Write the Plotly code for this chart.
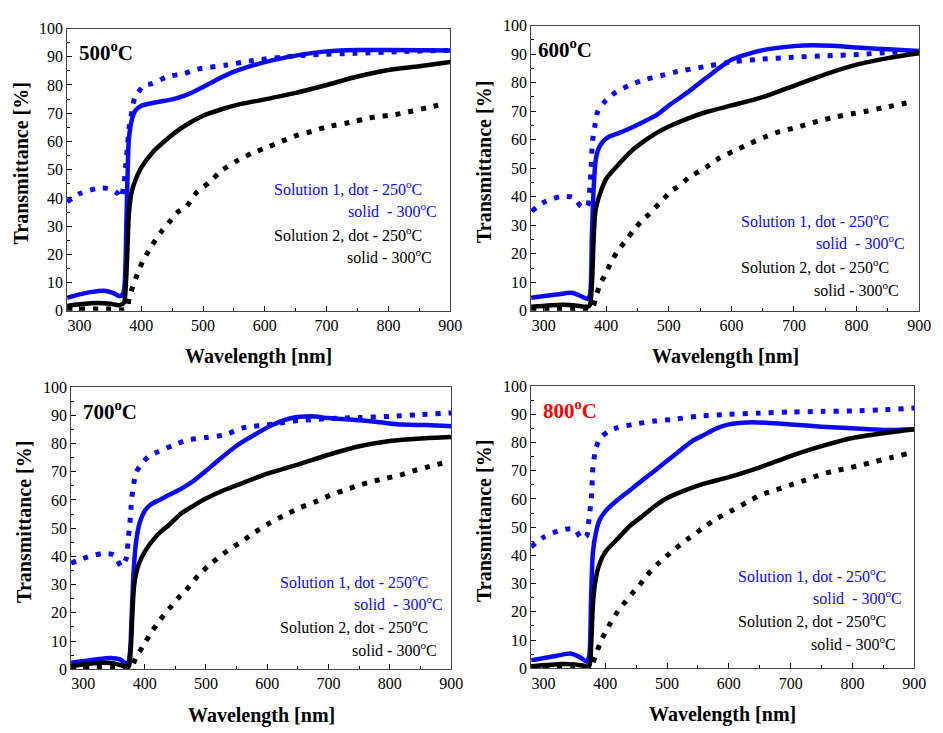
import plotly.graph_objects as go

# ---------------- data ----------------
panels = ["500", "600", "700", "800"]

# 500 C
t500_s1_250_x = [280, 300, 330, 350, 362, 367, 372, 375, 378, 380, 385, 390, 395, 405, 416, 443, 469, 491, 536, 582, 630, 678, 747, 816, 891, 900]
t500_s1_250_y = [38.6, 41.5, 43.4, 43.2, 41.5, 40.0, 45.0, 52.0, 59.0, 64.5, 70.8, 76.0, 77.4, 80.0, 80.4, 83.0, 84.0, 85.6, 87.0, 88.7, 89.9, 90.7, 91.2, 91.8, 92.2, 92.2]
t500_s1_300_x = [280, 300, 320, 340, 355, 365, 370, 373, 376, 378, 380, 385, 390, 400, 420, 450, 470, 485, 500, 520, 550, 600, 650, 700, 750, 800, 900]
t500_s1_300_y = [4.6, 5.8, 6.7, 7.1, 6.3, 5.2, 5.8, 9.0, 32.0, 49.5, 61.0, 68.0, 70.8, 72.6, 73.7, 74.9, 76.2, 77.6, 79.3, 81.6, 84.7, 88.1, 90.4, 91.9, 92.4, 92.4, 92.2]
t500_s2_250_x = [280, 300, 350, 376, 381, 395, 405, 418, 432, 444, 460, 473, 488, 510, 531, 554, 580, 607, 628, 653, 677, 699, 744, 768, 816, 864, 888]
t500_s2_250_y = [0.6, 0.6, 0.6, 0.6, 5.2, 13.8, 18.7, 23.4, 27.9, 31.1, 35.1, 36.9, 41.5, 45.5, 49.8, 53.0, 55.9, 58.2, 60.1, 62.2, 63.6, 65.1, 67.0, 68.3, 69.7, 72.0, 73.2]
t500_s2_300_x = [280, 300, 330, 350, 365, 372, 375, 378, 380, 385, 390, 400, 420, 440, 460, 480, 500, 530, 560, 600, 650, 700, 750, 800, 850, 900]
t500_s2_300_y = [1.7, 2.3, 2.8, 2.5, 2.0, 2.9, 9.2, 24.0, 34.6, 42.6, 46.0, 50.7, 56.5, 60.5, 64.0, 66.8, 69.1, 71.4, 73.2, 74.9, 77.2, 80.0, 83.0, 85.3, 86.6, 88.1]

# 600 C
t600_s1_250_x = [281, 299, 326, 347, 360, 370, 373, 375.6, 378, 382, 386, 396.6, 415, 441, 462, 488.6, 509.6, 559.5, 604, 646, 698.7, 751, 804, 856, 900]
t600_s1_250_y = [34.9, 37.9, 40.0, 39.8, 36.6, 36.6, 41.0, 49.0, 59.4, 65.0, 69.7, 73.1, 76.6, 79.4, 81.1, 82.5, 83.7, 85.7, 87.4, 88.2, 88.9, 89.4, 89.9, 90.6, 90.9]
t600_s1_300_x = [280, 320, 345, 360, 370, 374, 377, 380, 383, 388, 395, 405, 420, 440, 460, 480, 500, 530, 560, 600, 650, 700, 730, 760, 800, 850, 900]
t600_s1_300_y = [4.6, 5.7, 6.3, 5.1, 4.2, 5.7, 26.0, 43.4, 52.6, 57.0, 59.4, 61.1, 62.3, 64.2, 66.3, 68.6, 72.0, 76.6, 81.7, 88.0, 91.4, 92.8, 93.1, 92.9, 92.3, 91.7, 91.1]
t600_s2_250_x = [280, 320, 360, 377, 383.5, 391, 396.6, 406, 417.6, 432.4, 443, 458.6, 467.6, 487.5, 505.4, 513.8, 533, 559.5, 580.5, 604, 628, 651.5, 677.7, 698.7, 722.4, 746, 767, 793, 814, 840.6, 885]
t600_s2_250_y = [0.6, 0.6, 0.6, 0.6, 5.1, 9.7, 12.0, 16.2, 20.8, 24.9, 28.0, 32.0, 33.7, 38.3, 42.3, 43.4, 46.9, 50.3, 53.5, 56.0, 58.5, 60.8, 62.9, 64.0, 65.5, 66.9, 68.0, 69.1, 69.9, 71.1, 73.1]
t600_s2_300_x = [280, 330, 350, 365, 373, 377, 380, 383, 390, 400, 420, 440, 460, 480, 500, 530, 560, 600, 650, 700, 750, 800, 850, 900]
t600_s2_300_y = [1.4, 2.1, 1.9, 1.4, 1.7, 9.1, 26.0, 35.4, 41.0, 46.3, 51.4, 56.0, 59.4, 62.3, 64.6, 67.4, 69.7, 72.0, 74.9, 78.9, 82.9, 86.3, 88.6, 90.3]

# 700 C
t700_s1_250_x = [280, 300, 330, 350, 362, 370, 373, 376, 378, 381, 386, 393, 408, 420, 445, 470, 500, 530, 560, 610, 650, 700, 750, 800, 850, 900]
t700_s1_250_y = [37.6, 39.3, 41.0, 40.5, 36.4, 39.3, 45.7, 52.0, 57.8, 64.2, 69.6, 72.3, 75.7, 76.9, 79.2, 81.2, 82.1, 83.0, 85.5, 86.9, 88.1, 88.8, 89.2, 89.6, 90.2, 90.8]
t700_s1_300_x = [280, 320, 345, 360, 372, 376, 379, 382, 386, 392, 400, 410, 425, 440, 460, 480, 500, 520, 550, 580, 610, 640, 670, 700, 740, 780, 820, 860, 900]
t700_s1_300_y = [2.3, 3.5, 4.0, 3.5, 1.7, 5.8, 19.7, 34.7, 45.1, 52.0, 56.1, 58.4, 60.1, 61.8, 64.0, 66.8, 70.3, 74.0, 79.2, 83.2, 86.7, 89.0, 89.6, 89.0, 88.4, 87.6, 86.7, 86.5, 86.1]
t700_s2_250_x = [280, 320, 360, 378, 385.4, 397, 408, 420, 433.8, 443, 458, 467.7, 487.5, 510, 534, 558.5, 580, 604, 628.4, 652.6, 677, 701, 725, 746.7, 771, 792.4, 816.6, 838, 862, 889]
t700_s2_250_y = [0.6, 0.6, 0.6, 0.6, 4.0, 8.1, 12.1, 16.0, 19.9, 22.2, 26.0, 28.1, 33.3, 37.8, 41.8, 45.3, 48.6, 51.8, 54.6, 57.2, 59.2, 61.5, 63.4, 65.0, 66.5, 67.6, 68.8, 70.3, 71.7, 73.2]
t700_s2_300_x = [280, 330, 350, 365, 374, 377, 380, 383, 390, 400, 420, 440, 460, 480, 500, 530, 560, 600, 650, 700, 750, 800, 850, 900]
t700_s2_300_y = [1.2, 2.3, 2.1, 1.2, 0.9, 5.8, 19.7, 30.0, 37.0, 41.6, 47.4, 51.2, 55.3, 58.0, 60.5, 63.5, 66.0, 69.3, 72.5, 76.0, 79.0, 80.9, 81.8, 82.3]

# 800 C
t800_s1_250_x = [280, 300, 330, 350, 362, 370, 373, 376, 378, 380, 385, 392, 405, 420, 445, 480, 510, 550, 600, 650, 700, 750, 800, 850, 900]
t800_s1_250_y = [43.0, 46.4, 49.1, 49.3, 45.9, 47.0, 51.6, 57.4, 62.0, 71.2, 78.1, 81.6, 83.9, 85.3, 86.4, 87.6, 88.2, 89.3, 90.0, 90.4, 90.8, 91.0, 91.2, 91.6, 92.2]
t800_s1_300_x = [280, 320, 345, 360, 370, 374, 377, 380, 385, 390, 400, 420, 440, 460, 480, 500, 520, 540, 560, 580, 600, 630, 660, 700, 750, 800, 850, 900]
t800_s1_300_y = [2.9, 4.4, 5.2, 3.8, 2.3, 4.4, 25.0, 41.2, 48.2, 52.2, 55.6, 59.7, 63.1, 66.6, 70.0, 73.5, 77.0, 80.4, 82.7, 85.0, 86.4, 87.1, 87.0, 86.4, 85.6, 85.0, 84.4, 84.7]
t800_s2_250_x = [280, 320, 360, 377, 384, 393, 396.6, 408, 419.5, 432.9, 443.5, 459.5, 466, 486, 510, 534, 558, 580, 606, 629, 651, 675, 699, 723, 744, 768, 792, 816, 837.6, 864, 888]
t800_s2_250_y = [0.6, 0.6, 0.6, 0.6, 4.6, 9.6, 11.3, 15.9, 19.9, 23.7, 26.5, 30.6, 32.6, 37.2, 41.8, 45.9, 49.7, 53.0, 56.0, 58.8, 61.4, 63.1, 64.9, 66.6, 68.3, 69.8, 70.9, 72.1, 73.3, 74.7, 76.0]
t800_s2_300_x = [280, 330, 350, 365, 374, 377, 380, 384, 390, 400, 420, 440, 460, 480, 500, 530, 560, 600, 650, 700, 750, 800, 850, 900]
t800_s2_300_y = [0.7, 1.5, 1.4, 0.9, 0.7, 7.8, 22.8, 30.9, 36.6, 41.2, 45.9, 50.5, 53.9, 57.4, 60.3, 63.1, 65.4, 67.7, 71.2, 75.2, 78.7, 81.6, 83.3, 84.7]

x_ticks = [300, 400, 500, 600, 700, 800, 900]
y_ticks = [0, 10, 20, 30, 40, 50, 60, 70, 80, 90, 100]

series = {
    "500": [(t500_s1_250_x, t500_s1_250_y), (t500_s1_300_x, t500_s1_300_y), (t500_s2_250_x, t500_s2_250_y), (t500_s2_300_x, t500_s2_300_y)],
    "600": [(t600_s1_250_x, t600_s1_250_y), (t600_s1_300_x, t600_s1_300_y), (t600_s2_250_x, t600_s2_250_y), (t600_s2_300_x, t600_s2_300_y)],
    "700": [(t700_s1_250_x, t700_s1_250_y), (t700_s1_300_x, t700_s1_300_y), (t700_s2_250_x, t700_s2_250_y), (t700_s2_300_x, t700_s2_300_y)],
    "800": [(t800_s1_250_x, t800_s1_250_y), (t800_s1_300_x, t800_s1_300_y), (t800_s2_250_x, t800_s2_250_y), (t800_s2_300_x, t800_s2_300_y)],
}

# ---------------- layout / style ----------------
W, H = 943, 733
BLUE = "#0a0af5"
FONT = "Liberation Serif, Times New Roman, serif"

# plot areas in pixels: left, right, top, bottom
boxes = {
    "500": (68, 456, 21, 310),
    "600": (538, 931, 18, 310),
    "700": (72, 457, 388, 677),
    "800": (538, 926, 387, 676),
}
label_colors = {"500": "black", "600": "black", "700": "black", "800": "red"}
# text positions in data units (right edges of the four legend lines, their y)
legend_pos = {
    "500": [(857, 43.6), (882, 35.6), (857, 27.3), (873, 19.4)],
    "600": [(855, 31.8), (880, 24.0), (855, 15.7), (871, 7.8)],
    "700": [(865, 31.2), (890, 23.5), (865, 15.3), (880, 7.2)],
    "800": [(858, 33.0), (883, 25.1), (858, 17.0), (874, 9.0)],
}
legend_texts = [
    ("Solution 1, dot - 250<sup>o</sup>C", BLUE),
    ("solid  - 300<sup>o</sup>C", BLUE),
    ("Solution 2, dot - 250<sup>o</sup>C", "black"),
    ("solid - 300<sup>o</sup>C", "black"),
]
styles = [
    dict(color=BLUE, width=5, dash="5px,8px", shape="spline", smoothing=0.7),
    dict(color=BLUE, width=4.5, shape="spline", smoothing=0.7),
    dict(color="black", width=5, dash="5px,8px", shape="spline", smoothing=0.7),
    dict(color="black", width=4.5, shape="spline", smoothing=0.7),
]

fig = go.Figure()
annotations = []
for i, p in enumerate(panels):
    ax = "" if i == 0 else str(i + 1)
    l, r, t, b = boxes[p]
    for (xs, ys), st in zip(series[p], styles):
        fig.add_trace(go.Scatter(x=xs, y=ys, mode="lines", line=st,
                                 xaxis="x" + ax, yaxis="y" + ax, showlegend=False,
                                 hoverinfo="skip"))
    common = dict(showgrid=False, zeroline=False, showline=True, mirror=True,
                  linecolor="#444", linewidth=1, ticks="inside", ticklen=5,
                  tickcolor="black", tickfont=dict(family=FONT, size=16, color="black"))
    fig.update_layout(**{
        "xaxis" + ax: dict(domain=[l / W, r / W], range=[280, 900], tickvals=x_ticks,
                           anchor="y" + ax,
                           minor=dict(dtick=50, tick0=0, ticks="inside", ticklen=3, tickcolor="black"),
                           **common),
        "yaxis" + ax: dict(domain=[1 - b / H, 1 - t / H], range=[0, 100], tickvals=y_ticks,
                           anchor="x" + ax,
                           minor=dict(dtick=5, tick0=0, ticks="inside", ticklen=3, tickcolor="black"),
                           **common),
    })
    # panel label
    annotations.append(dict(xref="x" + ax, yref="y" + ax, x=296 if p != "600" else 288,
                            y=91.8, xanchor="left", yanchor="middle", showarrow=False,
                            text=f"<b>{p}<sup>o</sup>C</b>",
                            font=dict(family=FONT, size=21, color=label_colors[p])))
    # in-plot legend text
    for (tx, ty), (txt, col) in zip(legend_pos[p], legend_texts):
        annotations.append(dict(xref="x" + ax, yref="y" + ax, x=tx, y=ty,
                                xanchor="right", yanchor="middle", showarrow=False,
                                text=txt, font=dict(family=FONT, size=16, color=col)))
    # axis titles
    annotations.append(dict(xref="paper", yref="paper", x=(l + r) / 2 / W,
                            y=1 - (b + 47) / H, xanchor="center", yanchor="middle",
                            showarrow=False, text="<b>Wavelength [nm]</b>",
                            font=dict(family=FONT, size=20, color="black")))
    annotations.append(dict(xref="paper", yref="paper", x=(l - 47) / W,
                            y=1 - ((t + b) / 2 - 6) / H, xanchor="center", yanchor="middle",
                            showarrow=False, textangle=-90, text="<b>Transmittance [%]</b>",
                            font=dict(family=FONT, size=20, color="black")))

fig.update_layout(width=W, height=H, margin=dict(l=0, r=0, t=0, b=0),
                  paper_bgcolor="white", plot_bgcolor="white",
                  annotations=annotations, font=dict(family=FONT))
fig.write_html("out.html")
